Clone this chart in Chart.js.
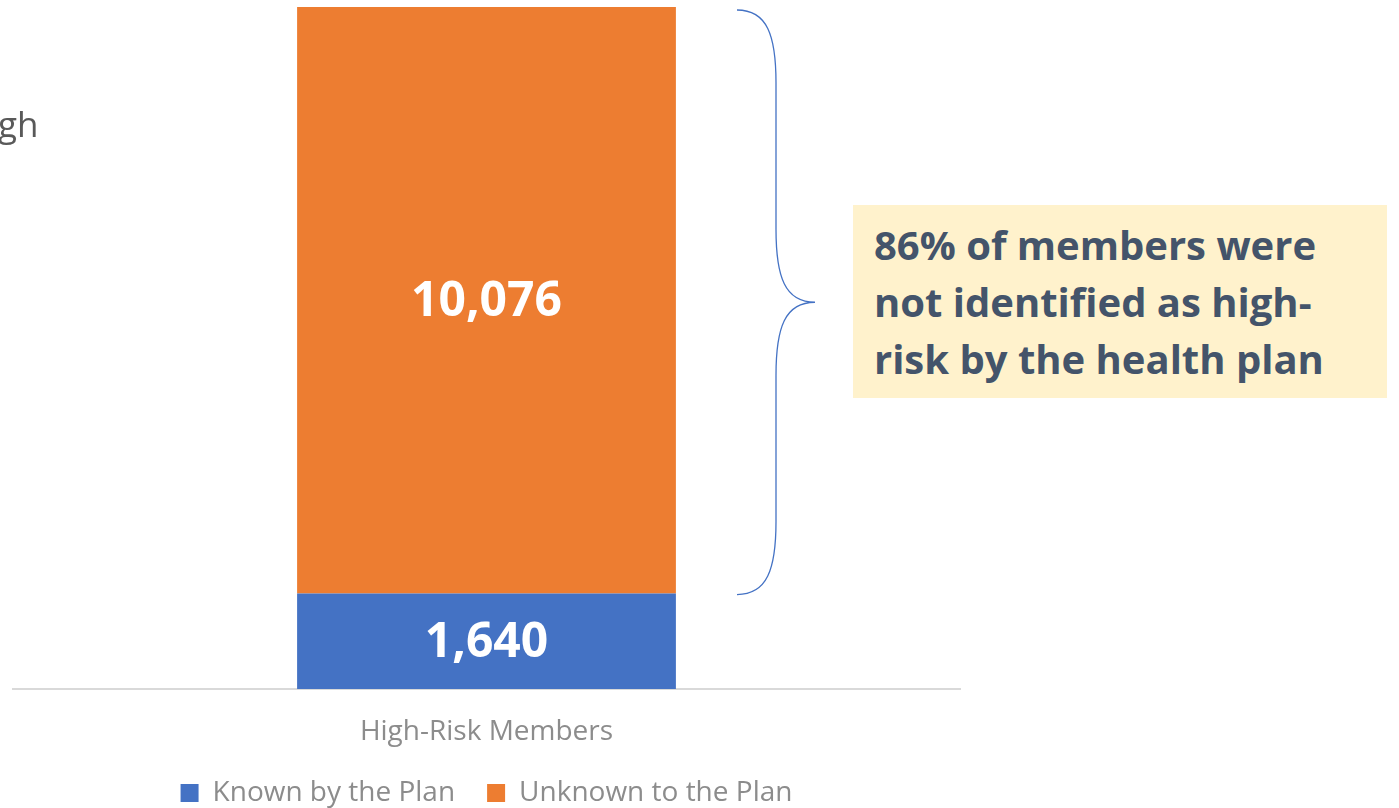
<!DOCTYPE html>
<html>
<head>
<meta charset="utf-8">
<script src="https://cdn.jsdelivr.net/npm/chart.js@4"></script>
<style>
    html, body { margin: 0; padding: 0; background: #fff; overflow: hidden; }
    #wrap { position: relative; width: 1399px; height: 808px; }
    #riskChart { position: absolute; left: 0; top: 0; }
    .cut-title {
        position: absolute; left: -2px; top: 100px;
        font-family: 'Open Sans', sans-serif; font-size: 35px; color: #595959;
    }
    .callout {
        position: absolute; left: 853px; top: 205px; width: 534px; height: 193px;
        background: #FFF2CC; box-sizing: border-box; padding: 11px 0 0 21px;
        font-family: 'Open Sans', sans-serif; font-weight: bold; font-size: 40px;
        line-height: 57px; color: #44546A; white-space: nowrap;
    }
</style>
</head>
<body>
<div id="wrap">
    <canvas id="riskChart" width="1399" height="808"></canvas>
    <div class="cut-title">gh</div>
    <div class="callout">86% of members were<br>not identified as high-<br>risk by the health plan</div>
</div>
<script>
const categories = ['High-Risk Members'];
const knownByPlan = [1640];
const unknownToPlan = [10076];
const seriesNames = ['Known by the Plan', 'Unknown to the Plan'];
const seriesColors = ['#4472C4', '#ED7D31'];

// white value labels in the middle of each segment
const segmentLabels = {
    id: 'segmentLabels',
    afterDatasetsDraw(chart) {
        const ctx = chart.ctx;
        ctx.save();
        ctx.fillStyle = '#ffffff';
        ctx.font = 'bold 48px "Open Sans", sans-serif';
        ctx.textAlign = 'center';
        ctx.textBaseline = 'middle';
        chart.data.datasets.forEach((ds, i) => {
            chart.getDatasetMeta(i).data.forEach((bar, j) => {
                const mid = (bar.y + bar.base) / 2;
                ctx.fillText(ds.data[j].toLocaleString('en-US'), bar.x, mid + 2);
            });
        });
        ctx.restore();
    }
};

// curly brace spanning the unknown segment
const brace = {
    id: 'brace',
    afterDraw(chart) {
        const y = chart.scales.y;
        const top = y.getPixelForValue(knownByPlan[0] + unknownToPlan[0]) + 3;
        const bottom = y.getPixelForValue(knownByPlan[0]) + 1;
        const mid = (top + bottom) / 2;
        const x0 = 737, x1 = 776, x2 = 815;
        const r = 73;
        const ctx = chart.ctx;
        ctx.save();
        ctx.strokeStyle = '#4472C4';
        ctx.lineWidth = 1.3;
        ctx.beginPath();
        ctx.moveTo(x0, top);
        ctx.bezierCurveTo(x0 + 30, top, x1, top + 25, x1, top + r);
        ctx.lineTo(x1, mid - r);
        ctx.bezierCurveTo(x1, mid - 25, x2 - 30, mid, x2, mid);
        ctx.bezierCurveTo(x2 - 30, mid, x1, mid + 25, x1, mid + r);
        ctx.lineTo(x1, bottom - r);
        ctx.bezierCurveTo(x1, bottom - 25, x0 + 30, bottom, x0, bottom);
        ctx.stroke();
        ctx.restore();
    }
};

new Chart(document.getElementById('riskChart'), {
    type: 'bar',
    data: {
        labels: categories,
        datasets: [
            { label: seriesNames[0], data: knownByPlan, backgroundColor: seriesColors[0] },
            { label: seriesNames[1], data: unknownToPlan, backgroundColor: seriesColors[1] }
        ]
    },
    options: {
        responsive: false,
        animation: false,
        categoryPercentage: 1,
        barPercentage: 0.4,
        layout: { padding: { left: 13, right: 439, top: 7, bottom: -9 } },
        scales: {
            x: {
                stacked: true,
                grid: { display: false },
                border: { display: true, color: '#D9D9D9', width: 2 },
                ticks: {
                    color: '#8C8C8C',
                    padding: 20,
                    font: { family: 'Open Sans', size: 28, lineHeight: 1.1 }
                },
                afterFit(scale) { scale.height = 58; }
            },
            y: {
                stacked: true,
                display: false,
                min: 0,
                max: 11716
            }
        },
        plugins: {
            tooltip: { enabled: false },
            legend: {
                position: 'bottom',
                labels: {
                    color: '#8C8C8C',
                    boxWidth: 18,
                    boxHeight: 18,
                    padding: 32,
                    font: { family: 'Open Sans', size: 28 }
                }
            }
        }
    },
    plugins: [segmentLabels, brace]
});
</script>
</body>
</html>
